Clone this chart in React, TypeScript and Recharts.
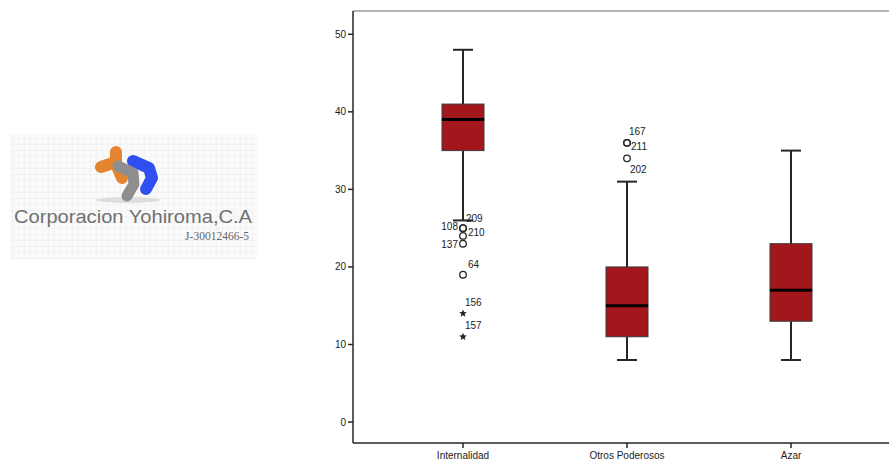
import React from 'react';
import { ComposedChart, Bar, Scatter, XAxis, YAxis, ReferenceLine } from 'recharts';

// Box plot summary per scale
const categories = ['Internalidad', 'Otros Poderosos', 'Azar'];
const whiskerLow = [26, 8, 8];
const quartile1 = [35, 11, 13];
const medians = [39, 15, 17];
const quartile3 = [41, 20, 23];
const whiskerHigh = [48, 31, 35];

// Outlying cases: group position (1-based), score, case number, marker kind
const outlierGroup = [1, 1, 1, 1, 1, 1, 1, 2, 2, 2];
const outlierValues = [25, 25, 24, 23, 19, 14, 11, 36, 36, 34];
const outlierCases = ['209', '108', '210', '137', '64', '156', '157', '167', '211', '202'];
const outlierKinds = ['circle', 'circle', 'circle', 'circle', 'circle', 'star', 'star', 'circle', 'circle', 'circle'];

const yTicks = [0, 10, 20, 30, 40, 50];
const Y_MIN = -2.7;
const Y_MAX = 53;

// Where each case number sits relative to its marker
const labelPlacement: Record<string, { dx: number; dy: number; anchor: 'start' | 'end' }> = {
  '209': { dx: 3, dy: -10, anchor: 'start' },
  '108': { dx: -5, dy: -2, anchor: 'end' },
  '210': { dx: 5, dy: -3, anchor: 'start' },
  '137': { dx: -5, dy: 1, anchor: 'end' },
  '64': { dx: 5, dy: -10, anchor: 'start' },
  '156': { dx: 2, dy: -11, anchor: 'start' },
  '157': { dx: 2, dy: -11, anchor: 'start' },
  '167': { dx: 2, dy: -11, anchor: 'start' },
  '211': { dx: 4, dy: 4, anchor: 'start' },
  '202': { dx: 3, dy: 11, anchor: 'start' },
};

const boxRows = categories.map((name, i) => ({
  name,
  base: whiskerLow[i],
  lowWhisker: quartile1[i] - whiskerLow[i],
  lowBox: medians[i] - quartile1[i],
  highBox: quartile3[i] - medians[i],
  highWhisker: whiskerHigh[i] - quartile3[i],
}));

const outlierRows = outlierValues.map((y, i) => ({
  x: outlierGroup[i],
  y,
  id: outlierCases[i],
  kind: outlierKinds[i],
}));

const FONT = '"Liberation Sans", Arial, sans-serif';
const BOX_FILL = '#A3161B';
const LINE = '#262626';
const CAP_HALF = 10;

const WhiskerLow = (p: any) => {
  const cx = p.x + p.width / 2;
  const bottom = p.y + p.height;
  return (
    <g>
      <line x1={cx} x2={cx} y1={p.y} y2={bottom} stroke={LINE} strokeWidth={2} />
      <line x1={cx - CAP_HALF} x2={cx + CAP_HALF} y1={bottom} y2={bottom} stroke={LINE} strokeWidth={2} />
    </g>
  );
};

const WhiskerHigh = (p: any) => {
  const cx = p.x + p.width / 2;
  const bottom = p.y + p.height;
  return (
    <g>
      <line x1={cx} x2={cx} y1={p.y} y2={bottom} stroke={LINE} strokeWidth={2} />
      <line x1={cx - CAP_HALF} x2={cx + CAP_HALF} y1={p.y} y2={p.y} stroke={LINE} strokeWidth={2} />
    </g>
  );
};

const LowBox = (p: any) => (
  <rect x={p.x} y={p.y} width={p.width} height={p.height} fill={BOX_FILL} stroke="#3a3a3a" strokeWidth={1} />
);

const HighBox = (p: any) => {
  const bottom = p.y + p.height;
  return (
    <g>
      <rect x={p.x} y={p.y} width={p.width} height={p.height} fill={BOX_FILL} stroke="#3a3a3a" strokeWidth={1} />
      <line x1={p.x} x2={p.x + p.width} y1={bottom} y2={bottom} stroke="#000" strokeWidth={3} />
    </g>
  );
};

const starPoints = (cx: number, cy: number, ro: number, ri: number) => {
  const pts: string[] = [];
  for (let k = 0; k < 10; k++) {
    const r = k % 2 === 0 ? ro : ri;
    const a = -Math.PI / 2 + (k * Math.PI) / 5;
    pts.push(`${cx + r * Math.cos(a)},${cy + r * Math.sin(a)}`);
  }
  return pts.join(' ');
};

const OutlierMark = (p: any) => {
  const { cx, cy, payload } = p;
  const place = labelPlacement[payload.id] || { dx: 4, dy: -10, anchor: 'start' };
  return (
    <g>
      {payload.kind === 'star' ? (
        <polygon points={starPoints(cx, cy, 4, 1.8)} fill={LINE} />
      ) : (
        <circle cx={cx} cy={cy} r={3.3} fill="none" stroke={LINE} strokeWidth={1.3} />
      )}
      <text
        x={cx + place.dx}
        y={cy + place.dy}
        textAnchor={place.anchor}
        dominantBaseline="central"
        fontFamily={FONT}
        fontSize={10}
        fill="#222"
      >
        {payload.id}
      </text>
    </g>
  );
};

const Logo = () => (
  <svg width={262} height={264} style={{ position: 'absolute', left: 0, top: 0 }}>
    <defs>
      <pattern id="logoGrid" width="6" height="6" patternUnits="userSpaceOnUse">
        <path d="M 6 0 L 0 0 0 6" fill="none" stroke="#ebebeb" strokeWidth="1" />
      </pattern>
    </defs>
    <rect x={10} y={134} width={247} height={125} fill="#fafafa" />
    <rect x={10} y={134} width={247} height={125} fill="url(#logoGrid)" />
    <ellipse cx={128} cy={200} rx={32} ry={3} fill="#dedede" />
    <path d="M 116 152 L 116 162 L 101 167 M 116 164 L 122 178" fill="none" stroke="#E5852F" strokeWidth={12} strokeLinecap="round" strokeLinejoin="round" />
    <path d="M 133 161 L 149 168 L 152 178 L 146 189" fill="none" stroke="#2F4FF0" strokeWidth={12} strokeLinecap="round" strokeLinejoin="round" />
    <path d="M 118 166 L 133 173 L 134 184 L 127 196" fill="none" stroke="#8E8E8E" strokeWidth={11} strokeLinecap="round" strokeLinejoin="round" />
    <text x={14} y={223} fontFamily={FONT} fontSize={18} fill="#707070" textLength={238} lengthAdjust="spacingAndGlyphs">
      Corporacion Yohiroma,C.A
    </text>
    <text x={249} y={240} textAnchor="end" fontFamily='"Liberation Serif", "Times New Roman", serif' fontSize={11.5} fill="#666">
      J-30012466-5
    </text>
  </svg>
);

export default function App() {
  return (
    <div style={{ position: 'absolute', left: 0, top: 0, width: 889, height: 462, background: '#fff' }}>
      <ComposedChart
        width={889}
        height={462}
        data={boxRows}
        margin={{ top: 11, right: 0, bottom: 0, left: 0 }}
        barSize={42}
      >
        <XAxis
          dataKey="name"
          type="category"
          height={19}
          padding={{ left: 28, right: 16 }}
          tickSize={5}
          tickMargin={4}
          axisLine={{ stroke: LINE, strokeWidth: 1.5 }}
          tickLine={{ stroke: LINE, strokeWidth: 1.5 }}
          tick={{ fontFamily: FONT, fontSize: 10, fill: '#222' }}
          interval={0}
        />
        <XAxis xAxisId="num" dataKey="x" type="number" domain={[0.5, 3.5]} padding={{ left: 28, right: 16 }} hide />
        <YAxis
          type="number"
          domain={[Y_MIN, Y_MAX]}
          allowDataOverflow
          ticks={yTicks}
          width={353}
          tickSize={5}
          tickMargin={2}
          axisLine={{ stroke: LINE, strokeWidth: 1.5 }}
          tickLine={{ stroke: LINE, strokeWidth: 1.5 }}
          tick={{ fontFamily: FONT, fontSize: 10, fill: '#222' }}
        />
        <YAxis yAxisId="sy" dataKey="y" type="number" domain={[Y_MIN, Y_MAX]} allowDataOverflow hide />
        <ReferenceLine y={Y_MAX} stroke="#9a9a9a" strokeWidth={1.5} />
        <Bar dataKey="base" stackId="box" fill="transparent" isAnimationActive={false} />
        <Bar dataKey="lowWhisker" stackId="box" shape={WhiskerLow} isAnimationActive={false} />
        <Bar dataKey="lowBox" stackId="box" shape={LowBox} isAnimationActive={false} />
        <Bar dataKey="highBox" stackId="box" shape={HighBox} isAnimationActive={false} />
        <Bar dataKey="highWhisker" stackId="box" shape={WhiskerHigh} isAnimationActive={false} />
        <Scatter
          data={outlierRows}
          dataKey="y"
          xAxisId="num"
          yAxisId="sy"
          shape={OutlierMark}
          isAnimationActive={false}
        />
      </ComposedChart>
      <Logo />
    </div>
  );
}
